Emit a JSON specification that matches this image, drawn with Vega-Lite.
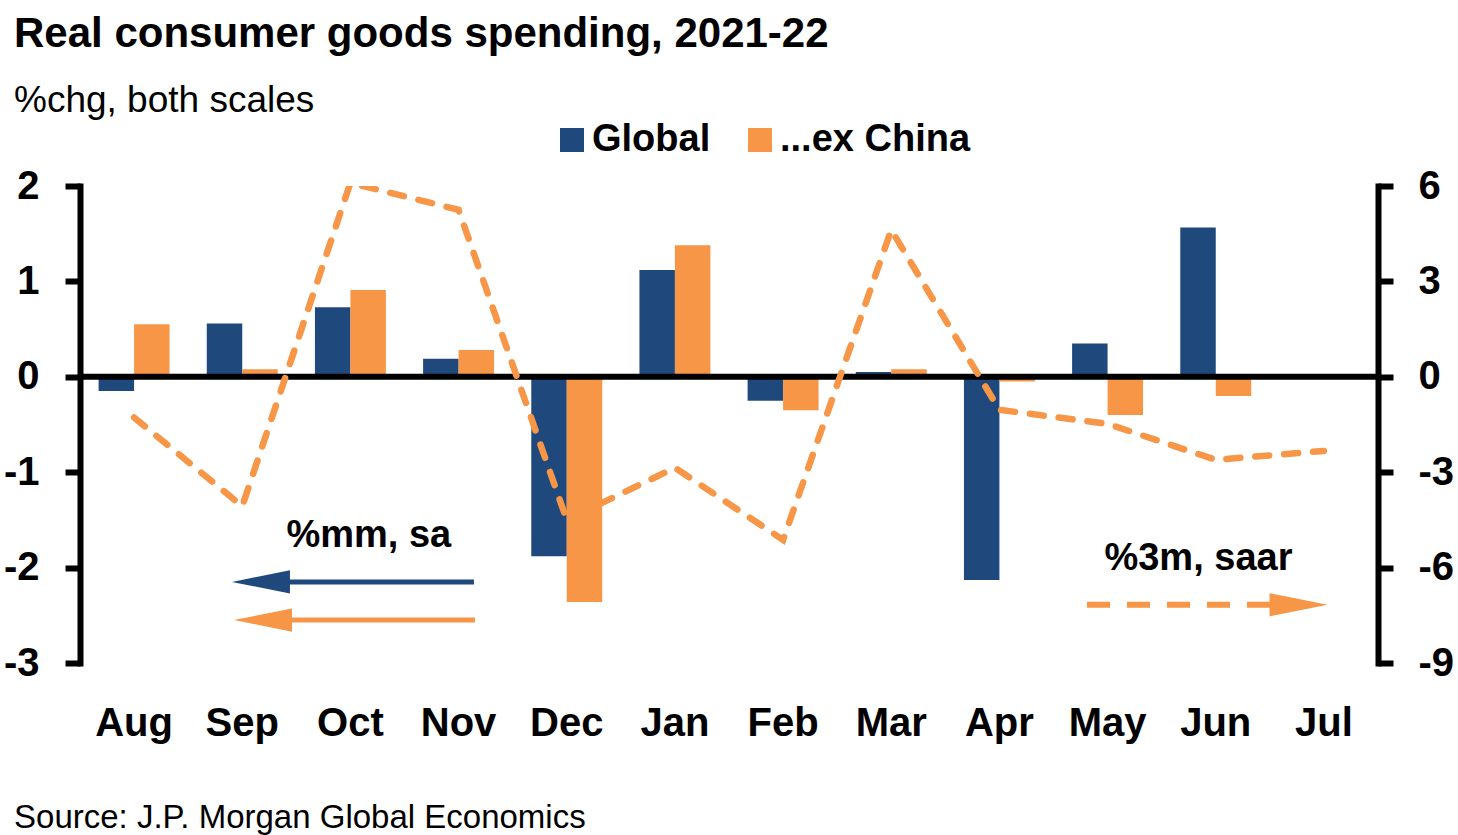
{
  "$schema": "https://vega.github.io/schema/vega-lite/v6.json",
  "width": 1298,
  "height": 477,
  "autosize": {"type": "none"},
  "padding": {"left": 80, "top": 186, "right": 80, "bottom": 172},
  "background": "white",
  "config": {
    "view": {"stroke": null},
    "font": "Liberation Sans, Arial, sans-serif"
  },
  "title": {
    "text": "Real consumer goods spending, 2021-22",
    "subtitle": "%chg, both scales",
    "anchor": "start",
    "frame": "group",
    "dx": -66,
    "offset": 1,
    "font": "Liberation Sans, Arial, sans-serif",
    "fontSize": 42,
    "fontWeight": "bold",
    "color": "black",
    "subtitleFont": "Liberation Sans, Arial, sans-serif",
    "subtitleFontSize": 37,
    "subtitleFontWeight": "normal",
    "subtitleColor": "black",
    "subtitlePadding": 27
  },
  "datasets": {
    "bars": [
      {"month": "Aug", "series": "Global", "value": -0.15},
      {"month": "Aug", "series": "...ex China", "value": 0.55},
      {"month": "Sep", "series": "Global", "value": 0.56},
      {"month": "Sep", "series": "...ex China", "value": 0.08},
      {"month": "Oct", "series": "Global", "value": 0.73},
      {"month": "Oct", "series": "...ex China", "value": 0.91},
      {"month": "Nov", "series": "Global", "value": 0.19},
      {"month": "Nov", "series": "...ex China", "value": 0.28},
      {"month": "Dec", "series": "Global", "value": -1.88},
      {"month": "Dec", "series": "...ex China", "value": -2.36},
      {"month": "Jan", "series": "Global", "value": 1.12},
      {"month": "Jan", "series": "...ex China", "value": 1.38},
      {"month": "Feb", "series": "Global", "value": -0.25},
      {"month": "Feb", "series": "...ex China", "value": -0.35},
      {"month": "Mar", "series": "Global", "value": 0.05},
      {"month": "Mar", "series": "...ex China", "value": 0.08},
      {"month": "Apr", "series": "Global", "value": -2.13},
      {"month": "Apr", "series": "...ex China", "value": -0.05},
      {"month": "May", "series": "Global", "value": 0.35},
      {"month": "May", "series": "...ex China", "value": -0.4},
      {"month": "Jun", "series": "Global", "value": 1.565},
      {"month": "Jun", "series": "...ex China", "value": -0.2},
      {"month": "Jul", "series": "Global", "value": null},
      {"month": "Jul", "series": "...ex China", "value": null}
    ],
    "saar": [
      {"month": "Aug", "saar": -1.28},
      {"month": "Sep", "saar": -4.07},
      {"month": "Oct", "saar": 6.1},
      {"month": "Nov", "saar": 5.25},
      {"month": "Dec", "saar": -4.5},
      {"month": "Jan", "saar": -2.86},
      {"month": "Feb", "saar": -5.13},
      {"month": "Mar", "saar": 4.62},
      {"month": "Apr", "saar": -1.04},
      {"month": "May", "saar": -1.48},
      {"month": "Jun", "saar": -2.61},
      {"month": "Jul", "saar": -2.33}
    ],
    "zero": [{"ref": 0}],
    "notes": [
      {"label": "%mm, sa", "x": 2.17, "y": -1.78},
      {"label": "%3m, saar", "x": 9.84, "y": -2.02}
    ],
    "source": [
      {"label": "Source: J.P. Morgan Global Economics", "x": -1.11, "y": -4.73}
    ],
    "shafts": [
      {"series": "Global", "start": 1.17, "end": 3.142, "y": -2.15},
      {"series": "...ex China", "start": 1.19, "end": 3.152, "y": -2.55}
    ],
    "dashShaft": [
      {"series": "...ex China", "start": 8.81, "end": 10.6, "y": -2.39}
    ],
    "heads": [
      {"series": "Global", "dir": "left", "x": 1.173, "y": -2.15},
      {"series": "...ex China", "dir": "left", "x": 1.192, "y": -2.55},
      {"series": "...ex China", "dir": "right", "x": 10.765, "y": -2.39}
    ]
  },
  "layer": [
    {
      "data": {"name": "bars"},
      "mark": {"type": "bar"},
      "encoding": {
        "x": {
          "field": "month", "type": "nominal",
          "sort": ["Aug","Sep","Oct","Nov","Dec","Jan","Feb","Mar","Apr","May","Jun","Jul"],
          "scale": {"type": "band", "paddingInner": 0.344, "paddingOuter": 0.172},
          "axis": {
            "orient": "bottom", "title": null, "domain": false, "ticks": false, "grid": false,
            "labelAngle": 0, "labelFontSize": 40, "labelFontWeight": "bold", "labelColor": "black",
            "labelPadding": 40
          }
        },
        "xOffset": {
          "field": "series", "type": "nominal", "sort": ["Global", "...ex China"],
          "scale": {"paddingInner": 0, "paddingOuter": 0}
        },
        "y": {
          "field": "value", "type": "quantitative",
          "scale": {"domain": [-3, 2], "nice": false, "zero": false},
          "axis": {
            "orient": "left", "title": null, "grid": false, "values": [-3,-2,-1,0,1,2],
            "labelExpr": "'' + datum.value",
            "domainColor": "black", "domainWidth": 6, "domainCap": "square",
            "tickColor": "black", "tickWidth": 6, "tickSize": 15,
            "labelFontSize": 40, "labelFontWeight": "bold", "labelColor": "black", "labelPadding": 26
          }
        },
        "color": {
          "field": "series", "type": "nominal",
          "scale": {"domain": ["Global", "...ex China"], "range": ["#1F497D", "#F79646"]},
          "legend": {
            "title": null, "orient": "none", "direction": "horizontal",
            "legendX": 473, "legendY": -65,
            "symbolType": "square", "symbolSize": 576, "symbolStrokeWidth": 0,
            "labelFontSize": 38, "labelFontWeight": "bold", "labelColor": "black",
            "labelOffset": 1, "columnPadding": 30, "labelLimit": 400
          }
        }
      }
    },
    {
      "data": {"name": "zero"},
      "mark": {"type": "rule", "color": "black", "strokeWidth": 6},
      "encoding": {
        "y": {"field": "ref", "type": "quantitative", "scale": {"domain": [-3, 2], "nice": false, "zero": false}, "axis": null}
      }
    },
    {
      "data": {"name": "saar"},
      "mark": {"type": "line", "color": "#F79646", "strokeWidth": 6.5, "strokeDash": [14, 15], "strokeCap": "round", "clip": true},
      "encoding": {
        "x": {
          "field": "month", "type": "nominal",
          "sort": ["Aug","Sep","Oct","Nov","Dec","Jan","Feb","Mar","Apr","May","Jun","Jul"],
          "scale": {"type": "point", "padding": 0.5},
          "axis": null
        },
        "y": {
          "field": "saar", "type": "quantitative",
          "scale": {"domain": [-9, 6], "nice": false, "zero": false},
          "axis": {
            "orient": "right", "title": null, "grid": false, "values": [-9,-6,-3,0,3,6],
            "labelExpr": "'' + datum.value",
            "domainColor": "black", "domainWidth": 6, "domainCap": "square",
            "tickColor": "black", "tickWidth": 6, "tickSize": 15,
            "labelFontSize": 40, "labelFontWeight": "bold", "labelColor": "black", "labelPadding": 25
          }
        }
      }
    },
    {
      "data": {"name": "shafts"},
      "mark": {"type": "rule", "strokeWidth": 5},
      "encoding": {
        "x": {"field": "start", "type": "quantitative", "scale": {"domain": [-0.5, 11.5], "nice": false, "zero": false}, "axis": null},
        "x2": {"field": "end"},
        "y": {"field": "y", "type": "quantitative", "scale": {"domain": [-3, 2], "nice": false, "zero": false}, "axis": null},
        "color": {"field": "series", "type": "nominal", "legend": null}
      }
    },
    {
      "data": {"name": "dashShaft"},
      "mark": {"type": "rule", "strokeWidth": 6, "strokeDash": [23, 17]},
      "encoding": {
        "x": {"field": "start", "type": "quantitative", "scale": {"domain": [-0.5, 11.5], "nice": false, "zero": false}, "axis": null},
        "x2": {"field": "end"},
        "y": {"field": "y", "type": "quantitative", "scale": {"domain": [-3, 2], "nice": false, "zero": false}, "axis": null},
        "color": {"field": "series", "type": "nominal", "legend": null}
      }
    },
    {
      "data": {"name": "heads"},
      "mark": {"type": "point", "filled": true, "opacity": 1, "size": 3364, "strokeWidth": 0},
      "encoding": {
        "x": {"field": "x", "type": "quantitative", "scale": {"domain": [-0.5, 11.5], "nice": false, "zero": false}, "axis": null},
        "y": {"field": "y", "type": "quantitative", "scale": {"domain": [-3, 2], "nice": false, "zero": false}, "axis": null},
        "color": {"field": "series", "type": "nominal", "legend": null},
        "shape": {
          "field": "dir", "type": "nominal",
          "scale": {"domain": ["left", "right"], "range": ["M -1 0 L 1 -0.4 L 1 0.4 Z", "M 1 0 L -1 -0.4 L -1 0.4 Z"]},
          "legend": null
        }
      }
    },
    {
      "data": {"name": "notes"},
      "mark": {"type": "text", "fontSize": 38, "fontWeight": "bold", "align": "center", "baseline": "alphabetic", "color": "black"},
      "encoding": {
        "x": {"field": "x", "type": "quantitative", "scale": {"domain": [-0.5, 11.5], "nice": false, "zero": false}, "axis": null},
        "y": {"field": "y", "type": "quantitative", "scale": {"domain": [-3, 2], "nice": false, "zero": false}, "axis": null},
        "text": {"field": "label"}
      }
    },
    {
      "data": {"name": "source"},
      "mark": {"type": "text", "fontSize": 33, "fontWeight": "normal", "align": "left", "baseline": "alphabetic", "color": "black", "clip": false},
      "encoding": {
        "x": {"field": "x", "type": "quantitative", "scale": {"domain": [-0.5, 11.5], "nice": false, "zero": false}, "axis": null},
        "y": {"field": "y", "type": "quantitative", "scale": {"domain": [-3, 2], "nice": false, "zero": false}, "axis": null},
        "text": {"field": "label"}
      }
    }
  ],
  "resolve": {"scale": {"x": "independent", "y": "independent"}}
}
